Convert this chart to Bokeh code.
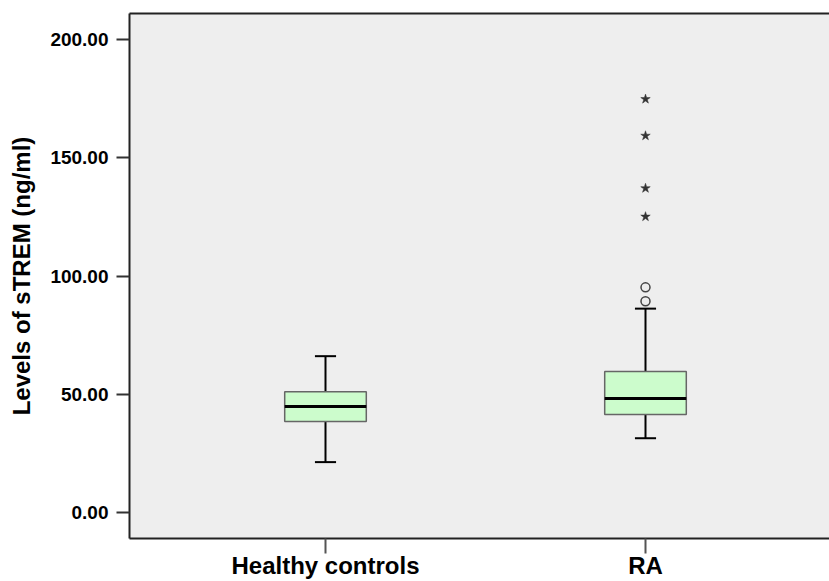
from bokeh.plotting import figure
from bokeh.models import Range1d, FixedTicker, LinearAxis
from bokeh.embed import file_html
from bokeh.resources import INLINE

categories = ["Healthy controls", "RA"]
q1 = [38.5, 41.4]
median = [44.8, 48.2]
q3 = [51.1, 59.6]
whisker_low = [21.3, 31.4]
whisker_high = [66.1, 86.2]
# outliers (circles) and extremes (stars)
outlier_cat = ["RA", "RA"]
outlier_val = [95.2, 89.3]
extreme_cat = ["RA", "RA", "RA", "RA"]
extreme_val = [174.8, 159.3, 137.1, 125.1]
y_ticks = [0, 50, 100, 150, 200]
y_tick_labels = ["0.00", "50.00", "100.00", "150.00", "200.00"]

FONT = "Liberation Sans"
pos = {c: i + 1 for i, c in enumerate(categories)}
xs = [pos[c] for c in categories]
BOX_W = 0.255
CAP_W = 0.066

p = figure(width=829, height=581, output_backend="svg", toolbar_location=None,
           x_range=Range1d(0.3875, 2.575), y_range=Range1d(-11.0, 211.0),
           min_border_left=129, min_border_right=0, min_border_top=13, min_border_bottom=43)
p.background_fill_color = "#eeeeee"
p.border_fill_color = "white"
p.outline_line_color = None
p.grid.visible = False

# whiskers
p.segment(x0=xs, y0=q3, x1=xs, y1=whisker_high, line_color="black", line_width=2)
p.segment(x0=xs, y0=q1, x1=xs, y1=whisker_low, line_color="black", line_width=2)
p.segment(x0=[x - CAP_W / 2 for x in xs], y0=whisker_high,
          x1=[x + CAP_W / 2 for x in xs], y1=whisker_high, line_color="black", line_width=2)
p.segment(x0=[x - CAP_W / 2 for x in xs], y0=whisker_low,
          x1=[x + CAP_W / 2 for x in xs], y1=whisker_low, line_color="black", line_width=2)
# boxes
p.vbar(x=xs, width=BOX_W, bottom=q1, top=q3, fill_color="#ccfccc",
       line_color="#666666", line_width=1.5)
p.segment(x0=[x - BOX_W / 2 for x in xs], y0=median,
          x1=[x + BOX_W / 2 for x in xs], y1=median, line_color="black", line_width=3)
# outliers
p.scatter(x=[pos[c] for c in outlier_cat], y=outlier_val, marker="circle", size=9,
          fill_color=None, line_color="#444444", line_width=1.5)
p.scatter(x=[pos[c] for c in extreme_cat], y=extreme_val, marker="star", size=10,
          fill_color="#333333", line_color="#333333", line_width=0.5)

# y axis
ya = p.yaxis[0]
ya.ticker = FixedTicker(ticks=y_ticks)
ya.major_label_overrides = {t: l for t, l in zip(y_ticks, y_tick_labels)}
ya.minor_tick_line_color = None
ya.major_tick_in = 0
ya.major_tick_out = 13
ya.major_tick_line_color = "#333333"
ya.major_tick_line_width = 2
ya.axis_line_color = "#222222"
ya.axis_line_width = 2
ya.major_label_text_font = FONT
ya.major_label_text_font_style = "bold"
ya.major_label_text_font_size = "19px"
ya.major_label_text_color = "black"
ya.major_label_standoff = 8
ya.axis_label = "Levels of sTREM (ng/ml)"
ya.axis_label_text_font = FONT
ya.axis_label_text_font_style = "bold"
ya.axis_label_text_font_size = "24px"
ya.axis_label_text_color = "black"
ya.axis_label_standoff = 12

# x axis
xa = p.xaxis[0]
xa.ticker = FixedTicker(ticks=xs)
xa.major_label_overrides = {x: c for x, c in zip(xs, categories)}
xa.minor_tick_line_color = None
xa.major_tick_in = 0
xa.major_tick_out = 15
xa.major_tick_line_color = "#555555"
xa.major_tick_line_width = 2
xa.axis_line_color = "#222222"
xa.axis_line_width = 2
xa.major_label_text_font = FONT
xa.major_label_text_font_style = "bold"
xa.major_label_text_font_size = "24px"
xa.major_label_text_color = "black"
xa.major_label_standoff = -2

# top border
top = LinearAxis(ticker=FixedTicker(ticks=[]), major_label_text_font_size="0px",
                 major_tick_line_color=None, minor_tick_line_color=None,
                 axis_line_color="#222222", axis_line_width=2)
p.add_layout(top, "above")

open("out.html", "w").write(file_html(p, INLINE))
